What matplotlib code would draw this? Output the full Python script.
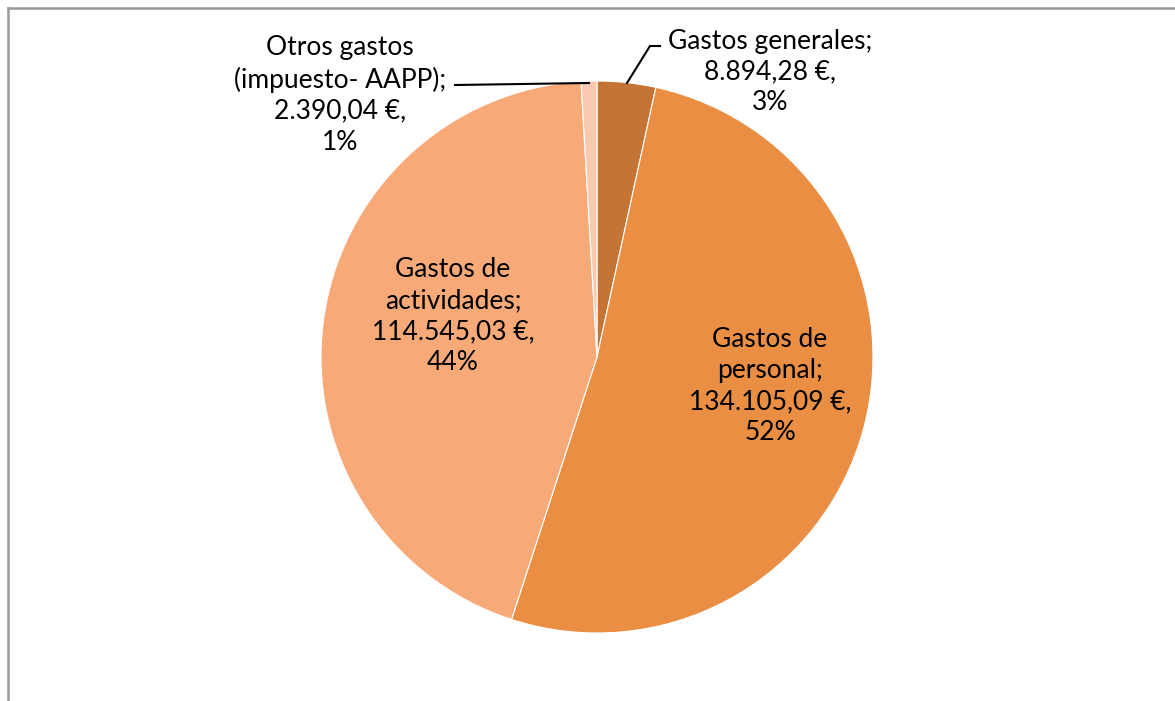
import matplotlib
matplotlib.use("Agg")
import matplotlib.pyplot as plt
from matplotlib.lines import Line2D

categories = ["Gastos generales", "Gastos de personal", "Gastos de actividades", "Otros gastos (impuesto- AAPP)"]
values = [8894.28, 134105.09, 114545.03, 2390.04]
label_texts = [
    "Gastos generales;\n8.894,28 €,\n3%",
    "Gastos de\npersonal;\n134.105,09 €,\n52%",
    "Gastos de\nactividades;\n114.545,03 €,\n44%",
    "Otros gastos\n(impuesto- AAPP);\n2.390,04 €,\n1%",
]
colors = ["#C47535", "#E98E42", "#F7AA78", "#F9C9B0"]

W, H = 1175, 701
fig = plt.figure(figsize=(W / 100, H / 100), dpi=100)
ax = fig.add_axes([0, 0, 1, 1])
ax.set_xlim(0, W)
ax.set_ylim(0, H)
ax.axis("off")

cx, cy, r = 597, H - 357, 276
ax.pie(values, colors=colors, startangle=90, counterclock=False,
       center=(cx, cy), radius=r, frame=True,
       wedgeprops=dict(edgecolor="white", linewidth=0.8))
ax.set_xlim(0, W)
ax.set_ylim(0, H)
ax.axis("off")

font = dict(family="Lato", fontsize=19, color="black", ha="center", va="center", linespacing=1.3)
label_pos = [(770, 72), (770, 386), (453, 316), (340, 95)]
for txt, (px, py) in zip(label_texts, label_pos):
    ax.text(px, H - py, txt, **font)

# leader lines
ax.add_line(Line2D([455, 589], [H - 85, H - 83], color="black", lw=1.5))
ax.add_line(Line2D([627, 650, 660], [H - 83, H - 46, H - 46], color="black", lw=1.5))

# frame
fig.add_artist(Line2D([8 / W, 1], [1 - 8 / H, 1 - 8 / H], transform=fig.transFigure, color="#9a9a9a", lw=1.8))
fig.add_artist(Line2D([8 / W, 8 / W], [0, 1 - 8 / H], transform=fig.transFigure, color="#9a9a9a", lw=1.8))

fig.savefig("out.png", dpi=100)
